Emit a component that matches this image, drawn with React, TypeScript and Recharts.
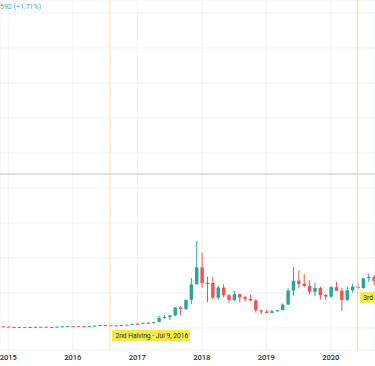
import { ComposedChart, Bar, XAxis, YAxis, CartesianGrid, ReferenceLine, ReferenceDot } from 'recharts';

// monthly BTC/USD candles, Nov 2014 .. Sep 2020
const months = [
  '2014-11', '2014-12',
  '2015-01', '2015-02', '2015-03', '2015-04', '2015-05', '2015-06', '2015-07', '2015-08', '2015-09', '2015-10', '2015-11', '2015-12',
  '2016-01', '2016-02', '2016-03', '2016-04', '2016-05', '2016-06', '2016-07', '2016-08', '2016-09', '2016-10', '2016-11', '2016-12',
  '2017-01', '2017-02', '2017-03', '2017-04', '2017-05', '2017-06', '2017-07', '2017-08', '2017-09', '2017-10', '2017-11', '2017-12',
  '2018-01', '2018-02', '2018-03', '2018-04', '2018-05', '2018-06', '2018-07', '2018-08', '2018-09', '2018-10', '2018-11', '2018-12',
  '2019-01', '2019-02', '2019-03', '2019-04', '2019-05', '2019-06', '2019-07', '2019-08', '2019-09', '2019-10', '2019-11', '2019-12',
  '2020-01', '2020-02', '2020-03', '2020-04', '2020-05', '2020-06', '2020-07', '2020-08', '2020-09',
];
const opens = [
  338, 378,
  320, 217, 254, 244, 236, 230, 263, 284, 230, 236, 314, 377,
  430, 368, 437, 416, 448, 531, 673, 624, 575, 609, 701, 742,
  966, 965, 1190, 1080, 1349, 2300, 2480, 2875, 4700, 4340, 6440, 9950,
  13860, 10270, 10310, 6930, 9240, 7490, 6390, 7730, 7030, 6630, 6300, 4020,
  3740, 3440, 3830, 4100, 5340, 8570, 10820, 10080, 9600, 8290, 9150, 7540,
  7190, 9350, 8520, 6420, 8630, 9450, 9140, 11350, 11660,
];
const highs = [
  457, 384,
  320, 265, 299, 262, 247, 268, 315, 285, 245, 334, 502, 466,
  462, 448, 439, 467, 548, 780, 704, 627, 630, 719, 755, 975,
  1150, 1213, 1350, 1425, 2760, 3000, 2950, 4770, 5000, 6470, 11400, 19890,
  17250, 11780, 11700, 9760, 9990, 7770, 8500, 7760, 7400, 7670, 6550, 4240,
  4140, 4200, 4140, 5600, 9100, 13880, 13200, 12330, 10950, 10370, 9510, 7750,
  9580, 10500, 9190, 9470, 10080, 10390, 11450, 12480, 12070,
];
const lows = [
  313, 300,
  152, 212, 236, 214, 226, 220, 255, 199, 225, 236, 300, 350,
  354, 366, 394, 412, 440, 520, 606, 466, 565, 604, 681, 740,
  750, 920, 890, 1060, 1340, 2100, 1830, 2700, 2970, 4100, 5500, 10700,
  9200, 5900, 6600, 6430, 7040, 5790, 6070, 5880, 6100, 6180, 3560, 3120,
  3350, 3380, 3690, 4060, 5330, 7440, 9070, 9330, 7710, 7300, 6510, 6420,
  6850, 8450, 3850, 6150, 8100, 8900, 8980, 10520, 9880,
];
const closes = [
  378, 320,
  217, 254, 244, 236, 230, 263, 284, 230, 236, 314, 377, 430,
  368, 437, 416, 448, 531, 673, 624, 575, 609, 701, 742, 966,
  965, 1190, 1080, 1349, 2300, 2480, 2875, 4700, 4340, 6440, 9950, 13860,
  10270, 10310, 6930, 9240, 7490, 6390, 7730, 7030, 6630, 6300, 4020, 3740,
  3440, 3830, 4100, 5340, 8570, 10820, 10080, 9600, 8290, 9150, 7540, 7190,
  9350, 8520, 6420, 8630, 9450, 9140, 11350, 11660, 10780,
];

const yearTicks = [0, 12, 24, 36, 48, 60];
const yearLabels = ['2015', '2016', '2017', '2018', '2019', '2020'];
const priceTicks = [0, 4000, 8000, 12000, 16000, 20000, 24000, 28000, 32000, 36000, 40000, 44000, 48000, 52000, 56000, 60000, 64000, 68000, 72000];

const halvingNames = ['2nd Halving - Jul 9, 2016', '3rd Halving - May 11, 2020'];
const halvingAt = [18.9, 65];
const halvingTagPrice = [-1700, 7000];
const separatorPrice = 35200;

const UP = '#26a69a';
const DOWN = '#ef5350';
const BODY_W = 3.4;

const monthIndex = (m: string) => {
  const [y, mo] = m.split('-').map(Number);
  return (y - 2015) * 12 + (mo - 1);
};

const data = months.map((m, i) => ({
  idx: monthIndex(m),
  open: opens[i],
  high: highs[i],
  low: lows[i],
  close: closes[i],
  range: [lows[i], highs[i]],
}));

function Candle(props: any) {
  let { x, y, width, height, payload } = props;
  if (height < 0) {
    y = y + height;
    height = -height;
  }
  const { open, high, low, close } = payload;
  const color = close >= open ? UP : DOWN;
  const cx = x + width / 2;
  const ratio = high - low > 0 ? height / (high - low) : 0;
  const bodyTop = y + (high - Math.max(open, close)) * ratio;
  const bodyH = Math.max(Math.abs(open - close) * ratio, 1);
  return (
    <g>
      <line x1={cx} x2={cx} y1={y} y2={y + height} stroke={color} strokeWidth={1} />
      <rect x={cx - BODY_W / 2} y={bodyTop} width={BODY_W} height={bodyH} fill={color} />
    </g>
  );
}

function HalvingTag({ cx, cy, text }: any) {
  return (
    <g>
      <rect x={cx + 2} y={cy - 5.5} width={78} height={11} fill="#f9e84c" />
      <text x={cx + 5.5} y={cy + 2.4} fontSize={6.7} fill="#2a2e39" fontFamily="Roboto, sans-serif">
        {text}
      </text>
    </g>
  );
}

export default function App() {
  return (
    <div style={{ position: 'absolute', left: 0, top: 0, width: 375, height: 366, background: '#fff', overflow: 'hidden' }}>
      <ComposedChart width={375} height={366} data={data} margin={{ top: 0, right: 0, bottom: 0, left: 0 }}>
        <CartesianGrid stroke="#f0f2f6" strokeWidth={1} />
        <XAxis
          dataKey="idx"
          type="number"
          domain={[-1.543, 68.22]}
          allowDataOverflow
          ticks={yearTicks}
          interval={0}
          tickFormatter={(v) => yearLabels[yearTicks.indexOf(v)] ?? ''}
          axisLine={false}
          tickLine={false}
          tickSize={0}
          tickMargin={5}
          height={16}
          tick={{ fontSize: 7.5, fill: '#2a2e39', fontFamily: 'Roboto, sans-serif', fontWeight: 500 }}
        />
        <YAxis hide type="number" domain={[-5029, 74971]} allowDataOverflow ticks={priceTicks} />
        <ReferenceLine y={separatorPrice} stroke="#dcdee2" strokeWidth={2} />
        {halvingAt.map((h, i) => (
          <ReferenceLine key={'l' + i} x={h} stroke="#f3e69a" strokeWidth={1} />
        ))}
        <Bar dataKey="range" barSize={4} shape={<Candle />} isAnimationActive={false} />
        {halvingAt.map((h, i) => (
          <ReferenceDot
            key={'t' + i}
            x={h}
            y={halvingTagPrice[i]}
            r={0}
            ifOverflow="visible"
            shape={(p: any) => <HalvingTag cx={p.cx} cy={p.cy} text={halvingNames[i]} />}
          />
        ))}
      </ComposedChart>
      <div style={{ position: 'absolute', left: 0, top: 3, fontSize: 7, lineHeight: '9px', color: '#3bb3a3', fontFamily: 'Roboto, sans-serif' }}>
        592 (+1.71%)
      </div>
    </div>
  );
}
